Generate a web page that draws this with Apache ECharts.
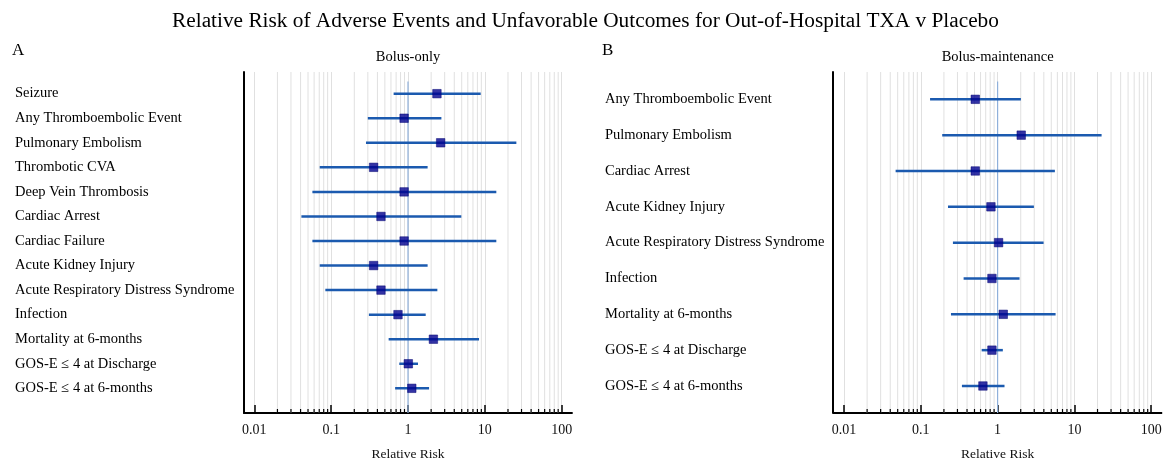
<!DOCTYPE html>
<html>
<head>
<meta charset="utf-8">
<script src="https://cdn.jsdelivr.net/npm/echarts@6/dist/echarts.min.js"></script>
<style>
html,body{margin:0;padding:0;background:#fff;}
#chart{width:1170px;height:466px;}
</style>
</head>
<body>
<div id="chart"></div>
<script>
// ---------------- DATA ----------------
const titleText = 'Relative Risk of Adverse Events and Unfavorable Outcomes for Out-of-Hospital TXA v Placebo';
const panelTitles = ['Bolus-only', 'Bolus-maintenance'];
const panelLetters = ['A', 'B'];
const axisName = 'Relative Risk';

const catsA = ['Seizure', 'Any Thromboembolic Event', 'Pulmonary Embolism', 'Thrombotic CVA',
  'Deep Vein Thrombosis', 'Cardiac Arrest', 'Cardiac Failure', 'Acute Kidney Injury',
  'Acute Respiratory Distress Syndrome', 'Infection', 'Mortality at 6-months',
  'GOS-E \u2264 4 at Discharge', 'GOS-E \u2264 4 at 6-months'];
const rrA   = [2.38, 0.89, 2.66, 0.357, 0.89, 0.445, 0.89, 0.357, 0.445, 0.741, 2.14, 1.01, 1.12];
const lowA  = [0.65, 0.30, 0.284, 0.071, 0.057, 0.041, 0.057, 0.071, 0.084, 0.31, 0.56, 0.77, 0.68];
const highA = [8.83, 2.72, 25.7, 1.80, 14.1, 4.94, 14.1, 1.80, 2.41, 1.70, 8.40, 1.35, 1.88];

const catsB = ['Any Thromboembolic Event', 'Pulmonary Embolism', 'Cardiac Arrest',
  'Acute Kidney Injury', 'Acute Respiratory Distress Syndrome', 'Infection',
  'Mortality at 6-months', 'GOS-E \u2264 4 at Discharge', 'GOS-E \u2264 4 at 6-months'];
const rrB   = [0.512, 2.03, 0.512, 0.819, 1.03, 0.844, 1.185, 0.844, 0.644];
const lowB  = [0.132, 0.19, 0.047, 0.226, 0.262, 0.361, 0.247, 0.62, 0.343];
const highB = [2.01, 22.6, 5.57, 2.97, 3.97, 1.93, 5.69, 1.17, 1.23];

const axisMin = 0.01, axisMax = 100;
const minorTicks = [0.02,0.03,0.04,0.05,0.06,0.07,0.08,0.09,
  0.2,0.3,0.4,0.5,0.6,0.7,0.8,0.9,
  2,3,4,5,6,7,8,9,
  20,30,40,50,60,70,80,90];
const refValue = 1;

// ---------------- STYLE / LAYOUT ----------------
const SERIF = '"Liberation Serif", "Times New Roman", serif';
const TXT = '#000';
const BAR = '#1b5aaf';
const MARK = '#00008f';
const REF = '#8fb0da';
const GRIDC = '#e0e0e0';

const panels = [
  {cats: catsA, rr: rrA, lo: lowA, hi: highA, left: 254.3, width: 307.4, innerTop: 81.4, innerH: 319.2, labelX: 15, letterX: 12},
  {cats: catsB, rr: rrB, lo: lowB, hi: highB, left: 844, width: 307.2, innerTop: 81.4, innerH: 322.5, labelX: 605, letterX: 602}
];
const outerTop = 72, outerH = 343;

const grids = [], xAxes = [], yAxes = [], series = [], graphics = [];

panels.forEach((p, k) => {
  const gO = grids.length;
  grids.push({left: p.left, width: p.width, top: outerTop, height: outerH, containLabel: false});
  const gI = grids.length;
  grids.push({left: p.left, width: p.width, top: p.innerTop, height: p.innerH, containLabel: false});

  // outer x axis (visible)
  const xO = xAxes.length;
  xAxes.push({
    type: 'log', logBase: 10, gridIndex: gO, min: axisMin, max: axisMax,
    axisLine: {show: true, onZero: false, lineStyle: {color: '#000', width: 2},
      symbol: ['rect', 'rect'], symbolSize: [2, 22]},
    axisTick: {show: true, inside: true, length: 8, lineStyle: {color: '#000', width: 1.5}},
    axisLabel: {show: true, margin: 10, fontFamily: SERIF, fontSize: 14, color: '#111',
      formatter: v => String(+(+v).toPrecision(6))},
    splitLine: {show: true, lineStyle: {color: GRIDC, width: 1}},
    name: axisName, nameLocation: 'middle', nameGap: 34,
    nameTextStyle: {fontFamily: SERIF, fontSize: 13.5, color: '#111'}
  });
  const yO = yAxes.length;
  yAxes.push({
    type: 'value', gridIndex: gO, min: 0, max: 1, offset: 11,
    axisLine: {show: true, onZero: false, lineStyle: {color: '#000', width: 2}},
    axisTick: {show: false}, axisLabel: {show: false}, splitLine: {show: false}
  });
  // inner axes
  const xI = xAxes.length;
  xAxes.push({type: 'log', logBase: 10, gridIndex: gI, min: axisMin, max: axisMax, show: false});
  const yI = yAxes.length;
  yAxes.push({
    type: 'category', gridIndex: gI, data: p.cats, inverse: true,
    axisLine: {show: false}, axisTick: {show: false}, splitLine: {show: false},
    axisLabel: {show: true, align: 'left', margin: p.left - p.labelX,
      fontFamily: SERIF, fontSize: 14.5, color: TXT}
  });

  // minor gridlines + minor ticks
  series.push({
    type: 'custom', xAxisIndex: xO, yAxisIndex: yO, z: 1, silent: true,
    data: minorTicks.map(v => [v]),
    renderItem: (params, api) => {
      const b = api.coord([api.value(0), 0]);
      const t = api.coord([api.value(0), 1]);
      return {type: 'group', children: [
        {type: 'line', shape: {x1: b[0], y1: b[1], x2: t[0], y2: t[1]}, style: {stroke: GRIDC, lineWidth: 1}},
        {type: 'line', shape: {x1: b[0], y1: b[1], x2: b[0], y2: b[1] - 4}, style: {stroke: '#000', lineWidth: 1.2}, z2: 5}
      ]};
    }
  });
  // reference line at RR = 1
  series.push({
    type: 'custom', xAxisIndex: xO, yAxisIndex: yO, z: 2, silent: true,
    data: [[refValue]],
    renderItem: (params, api) => {
      const b = api.coord([api.value(0), 0]);
      return {type: 'line', shape: {x1: b[0], y1: b[1], x2: b[0], y2: p.innerTop}, style: {stroke: REF, lineWidth: 1.2}};
    }
  });
  // CI bars
  series.push({
    type: 'custom', xAxisIndex: xI, yAxisIndex: yI, z: 3, silent: true,
    data: p.cats.map((c, i) => [p.lo[i], p.hi[i], i]),
    encode: {x: [0, 1], y: 2},
    renderItem: (params, api) => {
      const a = api.coord([api.value(0), api.value(2)]);
      const b = api.coord([api.value(1), api.value(2)]);
      return {type: 'line', shape: {x1: a[0], y1: a[1], x2: b[0], y2: b[1]}, style: {stroke: BAR, lineWidth: 2.5}};
    }
  });
  // point estimates
  series.push({
    type: 'scatter', xAxisIndex: xI, yAxisIndex: yI, z: 4, silent: true,
    symbol: 'rect', symbolSize: 8.5,
    itemStyle: {color: MARK, borderColor: '#000070', borderWidth: 0.6},
    data: p.cats.map((c, i) => [p.rr[i], i])
  });

  graphics.push({type: 'text', x: p.left + p.width / 2, y: 57,
    style: {text: panelTitles[k], fill: TXT, font: '14.5px ' + SERIF, textAlign: 'center', textVerticalAlign: 'middle'}});
  graphics.push({type: 'text', x: p.letterX, y: 51,
    style: {text: panelLetters[k], fill: TXT, font: '17px ' + SERIF, textAlign: 'left', textVerticalAlign: 'middle'}});
});

graphics.push({type: 'text', x: 585.5, y: 21,
  style: {text: titleText, fill: TXT, font: '21.3px ' + SERIF, textAlign: 'center', textVerticalAlign: 'middle'}});

const chart = echarts.init(document.getElementById('chart'), null, {renderer: 'canvas'});
chart.setOption({
  backgroundColor: '#fff',
  animation: false,
  grid: grids, xAxis: xAxes, yAxis: yAxes, series: series, graphic: graphics
});
</script>
</body>
</html>
